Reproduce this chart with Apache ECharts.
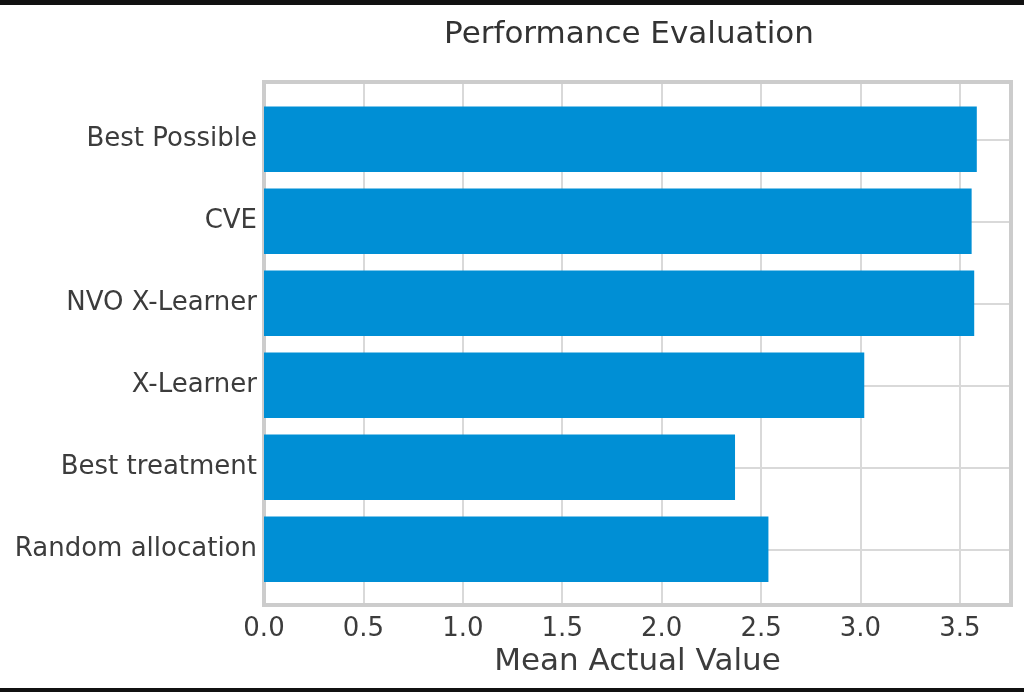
<!DOCTYPE html>
<html>
<head>
<meta charset="utf-8">
<script src="https://cdn.jsdelivr.net/npm/echarts@6/dist/echarts.min.js"></script>
<style>
html,body{margin:0;padding:0;background:#ffffff;}
#chart{width:1024px;height:692px;}
</style>
</head>
<body>
<div id="chart"></div>
<script>
const categories = ['Best Possible', 'CVE', 'NVO X-Learner', 'X-Learner', 'Best treatment', 'Random allocation'];
const values = [3.585, 3.559, 3.572, 3.019, 2.369, 2.537];
const xTicks = [0, 0.5, 1, 1.5, 2, 2.5, 3, 3.5];
const titleText = 'Performance Evaluation';
const xLabelText = 'Mean Actual Value';

const FONT = 'DejaVu Sans';
const TXT = '#3c3c3c';
const GRIDC = '#d9d9d9';
const XMAX = 3.757;

const chart = echarts.init(document.getElementById('chart'));
chart.setOption({
  backgroundColor: '#ffffff',
  animation: false,
  title: {
    text: titleText,
    left: 624,
    top: 14,
    textAlign: 'center',
    textStyle: { fontFamily: FONT, fontSize: 31, fontWeight: 'normal', color: '#333333' }
  },
  graphic: [
    { type: 'rect', left: 0, top: 0, shape: { width: 1024, height: 5 }, style: { fill: '#111111' }, z: 100 },
    { type: 'rect', left: 0, top: 688, shape: { width: 1024, height: 4 }, style: { fill: '#111111' }, z: 100 }
  ],
  grid: [
    { left: 264, right: 13, top: 82, bottom: 87, show: true, borderColor: '#cccccc', borderWidth: 4, backgroundColor: 'transparent', z: 3 },
    { left: 264, right: 13, top: 98.3, bottom: 101.7, show: false }
  ],
  xAxis: [
    {
      gridIndex: 0, type: 'value', min: 0, max: XMAX, interval: 0.5,
      axisLine: { show: false }, axisTick: { show: false },
      axisLabel: {
        fontFamily: FONT, fontSize: 26, color: TXT, margin: 11,
        showMaxLabel: false,
        formatter: function (v) {
          const t = xTicks.find(x => Math.abs(x - v) < 1e-6);
          return t === undefined ? '' : t.toFixed(1);
        }
      },
      splitLine: { show: true, lineStyle: { color: GRIDC, width: 2 } },
      name: xLabelText, nameLocation: 'middle', nameGap: 33,
      nameTextStyle: { fontFamily: FONT, fontSize: 31, color: TXT }
    },
    {
      gridIndex: 1, type: 'value', min: 0, max: XMAX, show: false,
      splitLine: { show: false }
    }
  ],
  yAxis: [
    { gridIndex: 0, type: 'value', min: 0, max: 1, show: false, splitLine: { show: false } },
    {
      gridIndex: 1, type: 'category', data: categories, inverse: true,
      axisLine: { show: false },
      axisTick: { show: false, alignWithLabel: true },
      axisLabel: { fontFamily: FONT, fontSize: 26, color: TXT, margin: 7, padding: [5, 0, 0, 0] },
      splitLine: { show: true, alignWithLabel: true, lineStyle: { color: GRIDC, width: 2 } }
    }
  ],
  series: [
    {
      type: 'bar', xAxisIndex: 1, yAxisIndex: 1, data: values,
      barWidth: '80%', z: 4,
      itemStyle: { color: '#008fd5' }
    }
  ]
});
</script>
</body>
</html>
